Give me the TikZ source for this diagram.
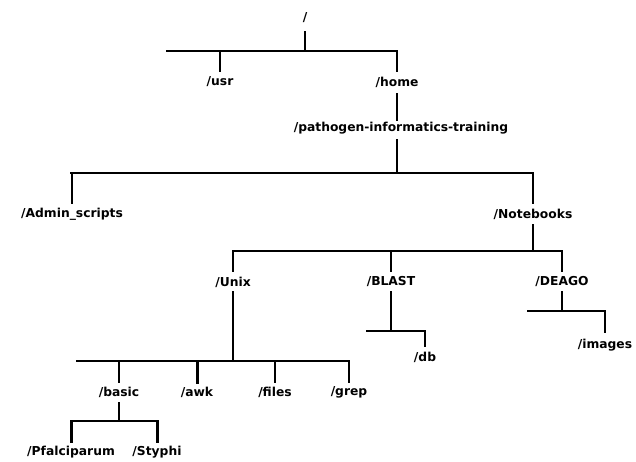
\documentclass[tikz,border=0pt]{standalone}
\usepackage{fontspec}
\setmainfont{DejaVu Sans}
\begin{document}
\begin{tikzpicture}[x=1pt,y=-1pt,
  lbl/.style={font=\fontsize{12.3}{14}\selectfont\bfseries, inner sep=0pt},
  br/.style={line width=2pt, line cap=rect},
  thk/.style={line width=3pt}]
\useasboundingbox (0,0) rectangle (636,462);
% labels
\node[lbl] (root) at (305,18) {/};
\node[lbl] (usr) at (220,82) {/usr};
\node[lbl] (home) at (397,82) {/home};
\node[lbl] (pit) at (401,128) {/pathogen-informatics-training};
\node[lbl] (admin) at (72,214) {/Admin\_scripts};
\node[lbl] (notebooks) at (533,214) {/Notebooks};
\node[lbl] (unix) at (233,282) {/Unix};
\node[lbl] (blast) at (391,282) {/BLAST};
\node[lbl] (deago) at (562,282) {/DEAGO};
\node[lbl] (basic) at (119,392) {/basic};
\node[lbl] (awk) at (197,392) {/awk};
\node[lbl] (files) at (275,392) {/files};
\node[lbl] (grep) at (349,392) {/grep};
\node[lbl] (pf) at (71,452) {/Pfalciparum};
\node[lbl] (sty) at (157,452) {/Styphi};
\node[lbl] (db) at (425,357) {/db};
\node[lbl] (images) at (605,345) {/images};
% bar end points
\coordinate (b1l) at (167,51);  \coordinate (b1r) at (397,51);
\coordinate (b2l) at (71,173);  \coordinate (b2r) at (532,173);
\coordinate (b3l) at (233,251); \coordinate (b3r) at (562,251);
\coordinate (b4l) at (77,361);  \coordinate (b4r) at (348,361);
\coordinate (b5l) at (71,421);  \coordinate (b5r) at (157,421);
\coordinate (b6l) at (367,331); \coordinate (b6r) at (425,331);
\coordinate (b7l) at (528,311); \coordinate (b7r) at (604,311);
% level 1
\draw[br] (b1l) -- (b1r);
\draw[br] ([yshift=-14pt]root.center) -- (root |- b1l);
\draw[br] (usr |- b1l) -- ([yshift=11pt]usr.center);
\draw[br] (home |- b1l) -- ([yshift=11pt]home.center);
\draw[br] ([yshift=-12pt]home.center) -- ([yshift=8pt]home.center |- pit.center);
% level 2
\draw[br] (b2l) -- (b2r);
\draw[br] ([yshift=-12pt]home.center |- pit.center) -- (home |- b2l);
\draw[br] (admin |- b2l) -- ([yshift=11pt]admin.center);
\draw[br] (notebooks |- b2l) -- ([yshift=11pt]notebooks.center);
% level 3
\draw[br] (b3l) -- (b3r);
\draw[br] ([yshift=-11pt]notebooks.center) -- (notebooks |- b3l);
\draw[br] (unix |- b3l) -- ([yshift=11pt]unix.center);
\draw[br] (blast |- b3l) -- ([yshift=11pt]blast.center);
\draw[br] (deago |- b3l) -- ([yshift=11pt]deago.center);
% Unix children
\draw[br] (b4l) -- (b4r);
\draw[br] ([yshift=-10pt]unix.center) -- (unix |- b4l);
\draw[br] (basic |- b4l) -- ([yshift=10pt]basic.center);
\draw[br,thk] (awk |- b4l) -- ([yshift=10pt]awk.center);
\draw[br] (files |- b4l) -- ([yshift=10pt]files.center);
\draw[br] (grep |- b4l) -- ([yshift=10pt]grep.center);
% basic children
\draw[br] (b5l) -- (b5r);
\draw[br] ([yshift=-11pt]basic.center) -- (basic |- b5l);
\draw[br,thk] (pf |- b5l) -- ([yshift=11pt]pf.center);
\draw[br,thk] (sty |- b5l) -- ([yshift=11pt]sty.center);
% BLAST children
\draw[br] (b6l) -- (b6r);
\draw[br] ([yshift=-10pt]blast.center) -- (blast |- b6l);
\draw[br] (db |- b6l) -- ([yshift=11pt]db.center);
% DEAGO children
\draw[br] (b7l) -- (b7r);
\draw[br] ([yshift=-10pt]deago.center) -- (deago |- b7l);
\draw[br] (images |- b7l) -- ([yshift=13pt]images.center);
\end{tikzpicture}
\end{document}
